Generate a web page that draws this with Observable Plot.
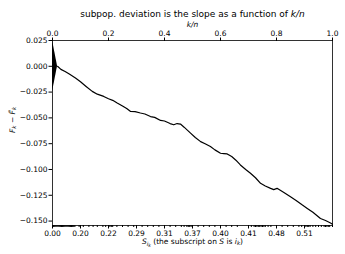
<!DOCTYPE html>
<html><head><meta charset="utf-8">
<script src="https://cdn.jsdelivr.net/npm/d3@7"></script>
<script src="https://cdn.jsdelivr.net/npm/@observablehq/plot@0.6"></script>
<style>body{margin:0;background:white;}</style>
</head><body><div id="chart"></div>
<script>
const kn = [0.018, 0.03, 0.045, 0.06, 0.082, 0.10, 0.12, 0.142, 0.16, 0.183, 0.2, 0.215, 0.231, 0.25, 0.265, 0.279, 0.295, 0.314, 0.33, 0.35, 0.365, 0.386, 0.40, 0.42, 0.433, 0.445, 0.457, 0.47, 0.493, 0.51, 0.529, 0.545, 0.564, 0.58, 0.6, 0.612, 0.624, 0.64, 0.655, 0.671, 0.69, 0.707, 0.725, 0.743, 0.76, 0.779, 0.79, 0.802, 0.825, 0.85, 0.87, 0.89, 0.91, 0.93, 0.957, 0.975, 0.993, 1.0];
const dev = [0.0, -0.003, -0.005, -0.0075, -0.0113, -0.015, -0.0195, -0.0243, -0.027, -0.0292, -0.0315, -0.033, -0.0356, -0.0385, -0.041, -0.0438, -0.044, -0.0453, -0.0462, -0.0487, -0.0495, -0.0525, -0.053, -0.0555, -0.0567, -0.0555, -0.056, -0.059, -0.0648, -0.069, -0.073, -0.075, -0.0778, -0.081, -0.0843, -0.0846, -0.0849, -0.0875, -0.091, -0.0956, -0.1, -0.1037, -0.108, -0.1134, -0.116, -0.1183, -0.1195, -0.1183, -0.122, -0.1265, -0.13, -0.134, -0.1378, -0.1415, -0.1475, -0.1495, -0.1518, -0.153];
const triX = [0, 0.018];
const triLo = [-0.025, 0];
const triHi = [0.025, 0];
const topTicks = [0, 0.2, 0.4, 0.6, 0.8, 1.0];
const bottomTickPos = [0, 0.1, 0.2, 0.3, 0.4, 0.5, 0.6, 0.7, 0.8, 0.9];
const bottomLabels = ["0.00", "0.20", "0.22", "0.29", "0.31", "0.37", "0.40", "0.41", "0.48", "0.51"];
const minorTicks = [0.000,0.004,0.008,0.012,0.016,0.020,0.024,0.028,0.032,0.036,0.040,0.044,0.048,0.052,0.056,0.060,0.064,0.068,0.072,0.076,0.080,
 0.095,0.11,0.13,0.145,0.16,0.18,0.19,0.20,0.205,0.21,0.215,0.23,0.25,0.27,0.29,0.30,0.32,0.34,0.36,0.38,0.40,0.42,0.44,0.46,0.47,0.48,0.485,0.49,0.495,0.50,0.52,0.54,0.56,0.58,0.60,0.62,0.64,0.66,0.70,0.71,0.72,0.725,0.73,0.735,0.74,0.745,0.75,0.755,0.76,0.77,0.78,0.80,0.82,0.84,0.86,0.88,0.89,0.90,0.905,0.91,0.915,0.92,0.93,0.94,0.95,0.96,0.97,0.975,0.98,0.985,0.99,1.0];
const yTicks = [0.025, 0, -0.025, -0.05, -0.075, -0.1, -0.125, -0.15];
const title = "subpop. deviation is the slope as a function of k/n";

const data = kn.map((k, i) => ({k, d: dev[i]}));
const tri = triX.map((x, i) => ({x, lo: triLo[i], hi: triHi[i]}));

const chart = Plot.plot({
  width: 345, height: 254,
  marginTop: 40, marginBottom: 29, marginLeft: 52, marginRight: 13,
  x: {domain: [0, 1]},
  y: {domain: [-0.1543, 0.025]},
  style: {fontFamily: "DejaVu Sans", fontSize: "7.5px", background: "white", color: "black"},
  marks: [
    Plot.areaY(tri, {x: "x", y1: "lo", y2: "hi", fill: "black"}),
    Plot.line(data, {x: "k", y: "d", stroke: "black", strokeWidth: 1.2}),
    Plot.frame({stroke: "black", strokeWidth: 0.8}),
    Plot.axisX({anchor: "top", ticks: topTicks, tickFormat: d3.format(".1f"), tickSize: 3.5, tickPadding: 1.5, label: null}),
    Plot.axisX({anchor: "bottom", ticks: minorTicks, tickFormat: () => "", tickSize: 2, label: null}),
    Plot.axisX({anchor: "bottom", ticks: bottomTickPos, tickFormat: d => bottomLabels[bottomTickPos.indexOf(d)], tickSize: 3.5, tickPadding: 1.5, label: null}),
    Plot.axisY({ticks: yTicks, tickFormat: d3.format(".3f"), tickSize: 3.5, tickPadding: 1.5, label: null}),
    Plot.text([title], {frameAnchor: "top", dy: -30, fontSize: 9, text: d => d}),
    Plot.text(["k/n"], {frameAnchor: "top", dy: -19, fontSize: 7.5, fontStyle: "italic", text: d => d}),
    Plot.text(["Fₖ − F̃ₖ"], {frameAnchor: "left", dx: -40, rotate: -90, fontSize: 7.5, text: d => d}),
    Plot.text(["XLABEL"], {frameAnchor: "bottom", dy: 18, fontSize: 7.5, text: d => d})
  ]
});
document.getElementById("chart").append(chart);

// italic parts via tspans
d3.select(chart).selectAll("text").each(function() {
  const t = d3.select(this);
  const s = t.text();
  if (s === title) {
    t.text("subpop. deviation is the slope as a function of ");
    t.append("tspan").attr("font-style", "italic").text("k/n");
  } else if (s === "XLABEL") {
    t.text("");
    t.append("tspan").attr("font-style", "italic").text("S");
    t.append("tspan").attr("font-style", "italic").attr("font-size", "5.5px").attr("dy", "2").text("i");
    t.append("tspan").attr("font-style", "italic").attr("font-size", "4.5px").attr("dy", "1").text("k");
    t.append("tspan").attr("dy", "-3").text(" (the subscript on ");
    t.append("tspan").attr("font-style", "italic").text("S");
    t.append("tspan").text(" is ");
    t.append("tspan").attr("font-style", "italic").text("i");
    t.append("tspan").attr("font-style", "italic").attr("font-size", "5.5px").attr("dy", "1.5").text("k");
    t.append("tspan").attr("dy", "-1.5").text(")");
  } else if (s === "Fₖ − F̃ₖ") {
    t.text("");
    t.append("tspan").attr("font-style", "italic").text("F");
    t.append("tspan").attr("font-style", "italic").attr("font-size", "5.5px").attr("dy", "1.5").text("k");
    t.append("tspan").attr("dy", "-1.5").text(" − ");
    t.append("tspan").attr("font-style", "italic").text("F̃");
    t.append("tspan").attr("font-style", "italic").attr("font-size", "5.5px").attr("dy", "1.5").text("k");
  }
});
</script></body></html>
